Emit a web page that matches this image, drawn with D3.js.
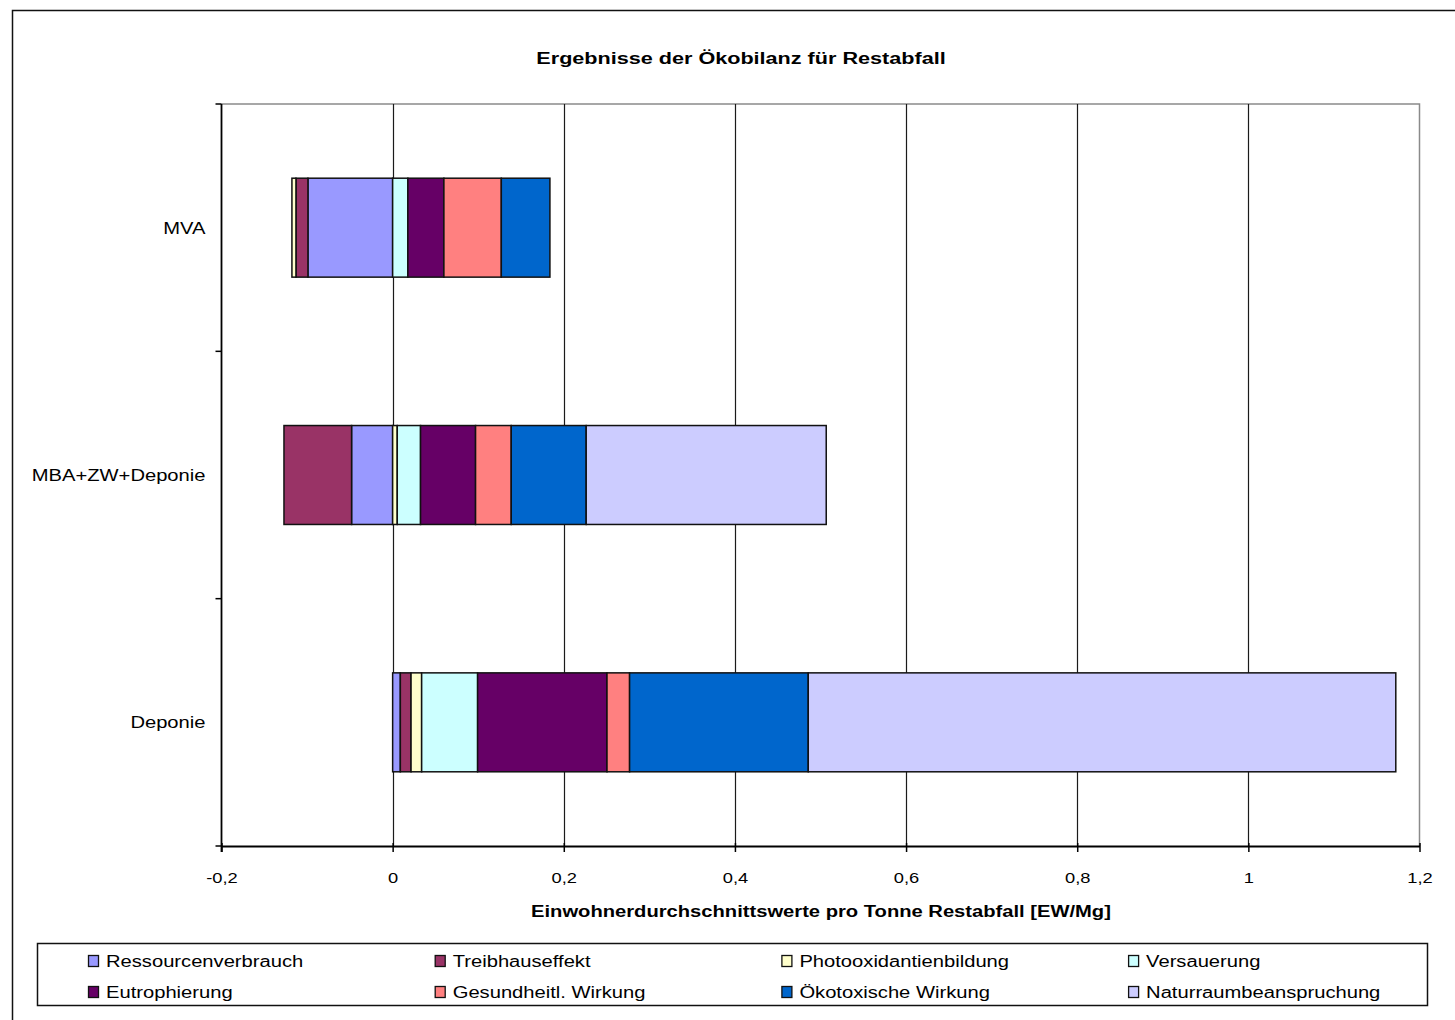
<!DOCTYPE html>
<html>
<head>
<meta charset="utf-8">
<script src="https://cdn.jsdelivr.net/npm/d3@7"></script>
<style>
  html, body { margin: 0; padding: 0; background: #fff; }
  svg text { font-family: "Liberation Sans", Arial, sans-serif; fill: #000; }
</style>
</head>
<body>
<svg id="chart" width="1455" height="1020"></svg>
<script>
// Categories (top to bottom) and impact series, in stacking order
const categories = ["MVA", "MBA+ZW+Deponie", "Deponie"];
const seriesNames = [
  "Ressourcenverbrauch", "Treibhauseffekt", "Photooxidantienbildung", "Versauerung",
  "Eutrophierung", "Gesundheitl. Wirkung", "Ökotoxische Wirkung", "Naturraumbeanspruchung"
];
const seriesColors = ["#9999FF", "#993366", "#FFFFCC", "#CCFFFF", "#660066", "#FF8080", "#0066CC", "#CCCCFF"];

// EW/Mg per category, one array per series (MVA, MBA+ZW+Deponie, Deponie)
const ressourcenverbrauch    = [-0.099, -0.048, 0.009];
const treibhauseffekt        = [-0.014, -0.079, 0.0125];
const photooxidantienbildung = [-0.0047, 0.0054, 0.0124];
const versauerung            = [0.0178, 0.0272, 0.0654];
const eutrophierung          = [0.0421, 0.0643, 0.1512];
const gesundheitWirkung      = [0.0671, 0.0417, 0.0264];
const oekotoxWirkung         = [0.0568, 0.0876, 0.2088];
const naturraum              = [0, 0.2805, 0.6866];

const xTicks = [-0.2, 0, 0.2, 0.4, 0.6, 0.8, 1.0, 1.2];
const xTickLabels = ["-0,2", "0", "0,2", "0,4", "0,6", "0,8", "1", "1,2"];

const titleText = "Ergebnisse der Ökobilanz für Restabfall";
const xAxisTitle = "Einwohnerdurchschnittswerte pro Tonne Restabfall [EW/Mg]";

const seriesValues = [ressourcenverbrauch, treibhauseffekt, photooxidantienbildung, versauerung,
  eutrophierung, gesundheitWirkung, oekotoxWirkung, naturraum];

const rows = categories.map((c, i) => {
  const r = { category: c };
  seriesNames.forEach((s, j) => { r[s] = seriesValues[j][i]; });
  return r;
});

const svg = d3.select("#chart");
const STRETCH = 1.26; // text is set slightly wide

function stretch(sel, factor) {
  sel.each(function () {
    const w = this.getComputedTextLength();
    d3.select(this).attr("textLength", w * factor).attr("lengthAdjust", "spacingAndGlyphs");
  });
}

// Outer frame
svg.append("rect")
  .attr("x", 12.5).attr("y", 10.5).attr("width", 1470).attr("height", 1030)
  .attr("fill", "none").attr("stroke", "#111").attr("stroke-width", 1.5);

const plot = { left: 221.5, right: 1419.5, top: 104, bottom: 846 };

const x = d3.scaleLinear().domain([-0.2, 1.2]).range([plot.left, plot.right]);
const y = d3.scaleBand().domain(categories).range([plot.top, plot.bottom])
  .paddingInner(0.6).paddingOuter(0.3);

// Plot area frame (top & right in grey)
svg.append("path")
  .attr("d", `M${plot.left},${plot.top}H${plot.right}V${plot.bottom}`)
  .attr("fill", "none").attr("stroke", "#8a8a8a").attr("stroke-width", 1.5);

// Vertical gridlines
svg.append("g").selectAll("line")
  .data(xTicks.filter(t => t > -0.2 && t < 1.2))
  .join("line")
  .attr("x1", d => Math.round(x(d)) + 0.5).attr("x2", d => Math.round(x(d)) + 0.5)
  .attr("y1", plot.top).attr("y2", plot.bottom)
  .attr("stroke", "#1a1a1a").attr("stroke-width", 1.2);

// Stacked bars (negatives stack leftwards from 0)
const stack = d3.stack().keys(seriesNames).offset(d3.stackOffsetDiverging);
const layers = stack(rows);

const gBars = svg.append("g");
layers.forEach((layer, li) => {
  gBars.append("g")
    .attr("fill", seriesColors[li])
    .selectAll("rect")
    .data(layer.filter(d => d[1] !== d[0]))
    .join("rect")
    .attr("x", d => x(Math.min(d[0], d[1])))
    .attr("width", d => Math.abs(x(d[1]) - x(d[0])))
    .attr("y", d => y(d.data.category))
    .attr("height", y.bandwidth())
    .attr("stroke", "#111").attr("stroke-width", 1.5);
});

// X axis
const xAxis = d3.axisBottom(x).tickValues(xTicks)
  .tickFormat((d, i) => xTickLabels[i]).tickSize(6).tickSizeOuter(0);
const gx = svg.append("g").attr("transform", `translate(0,${plot.bottom})`).call(xAxis);
gx.select(".domain").attr("stroke", "#000").attr("stroke-width", 1.8);
gx.selectAll(".tick line").attr("stroke", "#000").attr("stroke-width", 1.5).attr("y1", -3);
gx.selectAll(".tick text")
  .attr("y", 37).attr("dy", 0)
  .style("font-size", "15px").style("font-family", "'Liberation Sans', Arial, sans-serif")
  .attr("fill", "#000")
  .call(stretch, 1.22);

// Y axis: line, ticks at category boundaries, labels at band centres
const step = y.step();
const boundaries = d3.range(categories.length + 1).map(i => plot.top + i * step);
svg.append("line")
  .attr("x1", plot.left).attr("x2", plot.left)
  .attr("y1", plot.top).attr("y2", plot.bottom + 6)
  .attr("stroke", "#000").attr("stroke-width", 1.8);
svg.append("g").selectAll("line").data(boundaries).join("line")
  .attr("x1", plot.left - 6).attr("x2", plot.left)
  .attr("y1", d => d).attr("y2", d => d)
  .attr("stroke", "#000").attr("stroke-width", 1.5);
svg.append("g").selectAll("text").data(categories).join("text")
  .attr("x", plot.left - 16)
  .attr("y", d => y(d) + y.bandwidth() / 2 + 6)
  .attr("text-anchor", "end")
  .style("font-size", "16px")
  .text(d => d)
  .call(stretch, STRETCH);

// Title
svg.append("text")
  .attr("x", 741).attr("y", 64)
  .attr("text-anchor", "middle")
  .style("font-size", "16px").style("font-weight", "bold")
  .text(titleText)
  .call(stretch, 1.35);

// X axis title
svg.append("text")
  .attr("x", 821).attr("y", 917)
  .attr("text-anchor", "middle")
  .style("font-size", "16px").style("font-weight", "bold")
  .text(xAxisTitle)
  .call(stretch, 1.26);

// Legend
const legend = { x: 37.5, y: 943.5, w: 1390, h: 62 };
svg.append("rect")
  .attr("x", legend.x).attr("y", legend.y).attr("width", legend.w).attr("height", legend.h)
  .attr("fill", "#fff").attr("stroke", "#111").attr("stroke-width", 1.5);

const colStep = 346.7, rowStep = 31;
const items = svg.append("g").selectAll("g").data(seriesNames).join("g")
  .attr("transform", (d, i) => `translate(${88 + (i % 4) * colStep},${961 + Math.floor(i / 4) * rowStep})`);
items.append("rect")
  .attr("x", 0.5).attr("y", -5.5).attr("width", 10).attr("height", 11)
  .attr("fill", (d, i) => seriesColors[i])
  .attr("stroke", "#111").attr("stroke-width", 1.3);
items.append("text")
  .attr("x", 18).attr("y", 6)
  .style("font-size", "16px")
  .text(d => d)
  .call(stretch, STRETCH);
</script>
</body>
</html>
